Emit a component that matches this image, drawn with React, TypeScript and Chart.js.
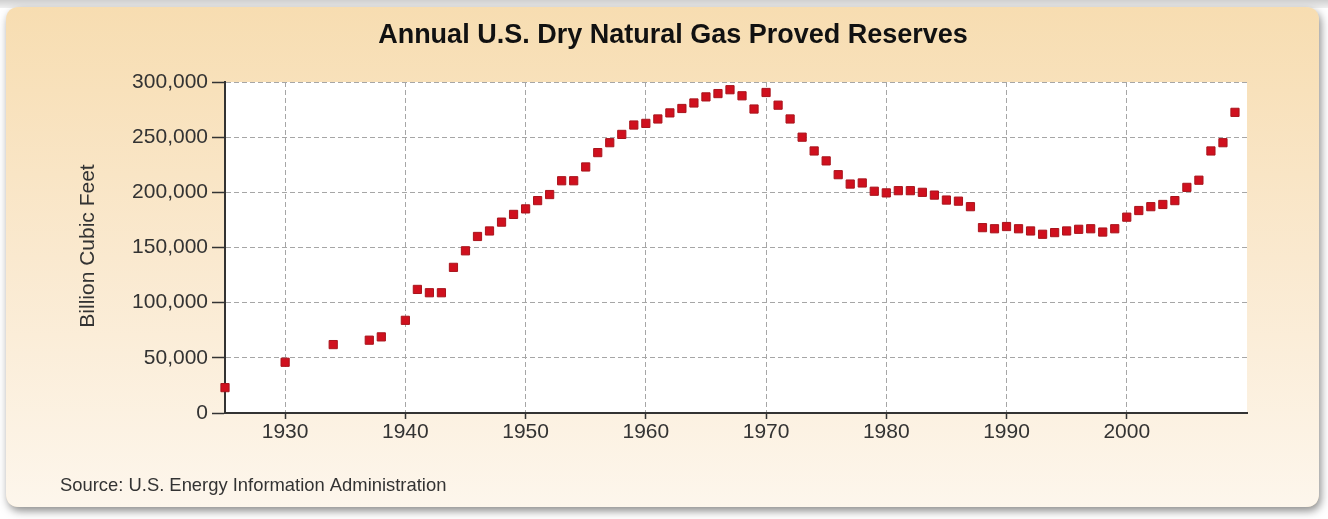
import { useEffect, useRef } from 'react';
import { Chart, registerables } from 'chart.js';

Chart.register(...registerables);

const years = [
  1925, 1930, 1934, 1937, 1938, 1940, 1941, 1942, 1943, 1944,
  1945, 1946, 1947, 1948, 1949, 1950, 1951, 1952, 1953, 1954,
  1955, 1956, 1957, 1958, 1959, 1960, 1961, 1962, 1963, 1964,
  1965, 1966, 1967, 1968, 1969, 1970, 1971, 1972, 1973, 1974,
  1975, 1976, 1977, 1978, 1979, 1980, 1981, 1982, 1983, 1984,
  1985, 1986, 1987, 1988, 1989, 1990, 1991, 1992, 1993, 1994,
  1995, 1996, 1997, 1998, 1999, 2000, 2001, 2002, 2003, 2004,
  2005, 2006, 2007, 2008, 2009,
];

const reserves = [
  23000, 46000, 62000, 66000, 69000, 84000, 112000, 109000, 109000, 132000,
  147000, 160000, 165000, 173000, 180000, 185000, 192500, 198000, 210500, 210500,
  223000, 236000, 245000, 252500, 261000, 262500, 266500, 272000, 276000, 281000,
  286500, 289500, 293000, 287500, 275500, 290500, 279000, 266500, 250000, 237500,
  228500, 216000, 207500, 208500, 201000, 199500, 201500, 201500, 200000, 197500,
  193000, 192000, 187000, 168000, 167000, 169000, 167000, 165000, 162000, 163500,
  165000, 166500, 167000, 164000, 167000, 177500, 183500, 187000, 189000, 192500,
  204500, 211000, 237500, 245000, 272500,
];

const xTickValues = [1930, 1940, 1950, 1960, 1970, 1980, 1990, 2000];
const yTickValues = [0, 50000, 100000, 150000, 200000, 250000, 300000];

const titleText = 'Annual U.S. Dry Natural Gas Proved Reserves';
const yTitleText = 'Billion Cubic Feet';
const sourceText = 'Source: U.S. Energy Information Administration';

const W = 1328;
const H = 519;
const FONT = '"Liberation Sans", Arial, Helvetica, sans-serif';

function roundRectPath(ctx: CanvasRenderingContext2D, x: number, y: number, w: number, h: number, r: number) {
  ctx.beginPath();
  ctx.moveTo(x + r, y);
  ctx.lineTo(x + w - r, y);
  ctx.quadraticCurveTo(x + w, y, x + w, y + r);
  ctx.lineTo(x + w, y + h - r);
  ctx.quadraticCurveTo(x + w, y + h, x + w - r, y + h);
  ctx.lineTo(x + r, y + h);
  ctx.quadraticCurveTo(x, y + h, x, y + h - r);
  ctx.lineTo(x, y + r);
  ctx.quadraticCurveTo(x, y, x + r, y);
  ctx.closePath();
}

const panelPlugin = {
  id: 'panelBackground',
  beforeDraw(chart: any) {
    const { ctx, chartArea } = chart;
    ctx.save();
    ctx.fillStyle = '#ffffff';
    ctx.fillRect(0, 0, W, H);
    const tg = ctx.createLinearGradient(0, 0, 0, 8);
    tg.addColorStop(0, '#d0d0d0');
    tg.addColorStop(1, '#f0f0f0');
    ctx.fillStyle = tg;
    ctx.fillRect(0, 0, W, 8);

    const px = 6, py = 7, pw = 1313, ph = 500, pr = 14;
    ctx.save();
    ctx.shadowColor = 'rgba(0,0,0,0.45)';
    ctx.shadowBlur = 8;
    ctx.shadowOffsetX = 2;
    ctx.shadowOffsetY = 4;
    roundRectPath(ctx, px, py, pw, ph, pr);
    ctx.fillStyle = '#f6e6c8';
    ctx.fill();
    ctx.restore();

    const g = ctx.createLinearGradient(0, py, 0, py + ph);
    g.addColorStop(0, '#f7ddb1');
    g.addColorStop(0.5, '#fae9cf');
    g.addColorStop(1, '#fdf6ec');
    roundRectPath(ctx, px, py, pw, ph, pr);
    ctx.fillStyle = g;
    ctx.fill();

    ctx.fillStyle = '#ffffff';
    ctx.fillRect(chartArea.left, chartArea.top, chartArea.right - chartArea.left, chartArea.bottom - chartArea.top);

    ctx.fillStyle = '#111111';
    ctx.font = `bold 27px ${FONT}`;
    ctx.textAlign = 'center';
    ctx.textBaseline = 'alphabetic';
    ctx.fillText(titleText, 673, 43);

    ctx.fillStyle = '#333333';
    ctx.font = `18.4px ${FONT}`;
    ctx.textAlign = 'left';
    ctx.textBaseline = 'middle';
    ctx.fillText(sourceText, 60, 486);

    ctx.save();
    ctx.translate(88, 246);
    ctx.rotate(-Math.PI / 2);
    ctx.font = `21px ${FONT}`;
    ctx.textAlign = 'center';
    ctx.textBaseline = 'middle';
    ctx.fillStyle = '#333333';
    ctx.fillText(yTitleText, 0, 0);
    ctx.restore();

    ctx.restore();
  },
};

export default function App() {
  const canvasRef = useRef<HTMLCanvasElement | null>(null);

  useEffect(() => {
    const canvas = canvasRef.current;
    if (!canvas) return;
    const points = years.map((yr, i) => ({ x: yr, y: reserves[i] }));
    const chart = new Chart(canvas, {
      type: 'scatter',
      data: {
        datasets: [
          {
            data: points,
            pointStyle: 'rect',
            pointRadius: 5.8,
            pointHoverRadius: 5.8,
            backgroundColor: '#d0101e',
            borderColor: '#a8141c',
            borderWidth: 1,
            clip: false,
          } as any,
        ],
      },
      options: {
        responsive: false,
        animation: false,
        devicePixelRatio: 1,
        layout: { padding: { left: 0, top: 82, right: 81, bottom: 46 } },
        plugins: {
          legend: { display: false },
          title: { display: false },
          tooltip: { enabled: false },
        },
        events: [],
        scales: {
          x: {
            type: 'linear',
            min: 1925,
            max: 2010,
            afterBuildTicks: (scale: any) => {
              scale.ticks = xTickValues.map((v) => ({ value: v }));
            },
            afterFit: (scale: any) => {
              scale.height = 60;
            },
            grid: {
              color: '#a6a6a6',
              lineWidth: 1,
              tickLength: 6,
              tickColor: '#333333',
              tickWidth: 1.5,
            },
            border: { display: true, color: '#333333', width: 2, dash: [5, 3] },
            ticks: {
              color: '#333333',
              padding: 1,
              font: { family: FONT, size: 21 },
              maxRotation: 0,
              autoSkip: false,
              callback: (v: any) => String(v),
            },
          },
          y: {
            type: 'linear',
            min: 0,
            max: 300000,
            afterBuildTicks: (scale: any) => {
              scale.ticks = yTickValues.map((v) => ({ value: v }));
            },
            afterFit: (scale: any) => {
              scale.width = 225;
            },
            grid: {
              color: '#a6a6a6',
              lineWidth: 1,
              tickLength: 13,
              tickColor: '#333333',
              tickWidth: 1.5,
            },
            border: { display: true, color: '#333333', width: 2, dash: [5, 3] },
            ticks: {
              color: '#333333',
              padding: 4,
              font: { family: FONT, size: 21 },
              autoSkip: false,
              callback: (v: any) => Number(v).toLocaleString('en-US'),
            },
          },
        },
      },
      plugins: [panelPlugin],
    });
    return () => chart.destroy();
  }, []);

  return (
    <div style={{ position: 'fixed', left: 0, top: 0, width: W, height: H }}>
      <canvas ref={canvasRef} width={W} height={H} style={{ width: W, height: H, display: 'block' }} />
    </div>
  );
}
